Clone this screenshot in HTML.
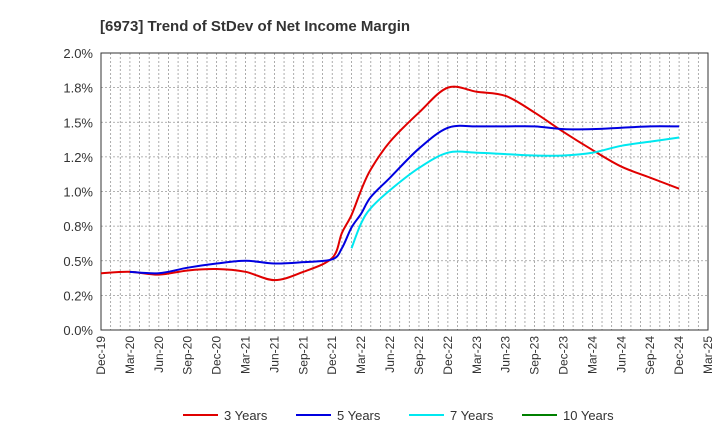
<!DOCTYPE html>
<html><head><meta charset="utf-8"><style>
body{margin:0;background:#fff;font-family:"Liberation Sans",sans-serif}
</style></head><body>
<svg id="c" width="720" height="440" xmlns="http://www.w3.org/2000/svg">
<text x="100" y="31" font-size="15" font-weight="bold" fill="#333">[6973]  Trend of StDev of Net Income Margin</text>
<g id="grid"></g><g id="axes"></g><g id="series"></g><g id="legend"></g>
</svg>
<script>
const xLabels=["Dec-19","Mar-20","Jun-20","Sep-20","Dec-20","Mar-21","Jun-21","Sep-21","Dec-21","Mar-22","Jun-22","Sep-22","Dec-22","Mar-23","Jun-23","Sep-23","Dec-23","Mar-24","Jun-24","Sep-24","Dec-24","Mar-25"];
const yTicks=[0,0.25,0.5,0.75,1.0,1.25,1.5,1.75,2.0];
const yTickLabels=["0.0%","0.2%","0.5%","0.8%","1.0%","1.2%","1.5%","1.8%","2.0%"];
// month index from Dec-19 (0) and values
const m3=[0,3,6,9,12,15,18,21,24,25,26,27,28,30,33,36,39,42,45,48,51,54,57,60];
const s3=[0.41,0.42,0.40,0.43,0.44,0.42,0.36,0.42,0.52,0.70,0.83,1.01,1.16,1.36,1.57,1.75,1.72,1.69,1.57,1.43,1.30,1.18,1.10,1.02];
const m5=[3,6,9,12,15,18,21,24,25,26,27,28,30,33,36,39,42,45,48,51,54,57,60];
const s5=[0.42,0.41,0.45,0.48,0.50,0.48,0.49,0.51,0.59,0.74,0.84,0.96,1.10,1.31,1.46,1.47,1.47,1.47,1.45,1.45,1.46,1.47,1.47];
const m7=[26,27,28,30,33,36,39,42,45,48,51,54,57,60];
const s7=[0.59,0.77,0.88,1.01,1.17,1.28,1.28,1.27,1.26,1.26,1.28,1.33,1.36,1.39];
const m10=[];
const s10=[];
const NS="http://www.w3.org/2000/svg";
const L=101,R=708,T=53,B=330;
const xm=m=>L+m*(R-L)/63;
const ys=v=>B-v/2.0*(B-T);
function mk(tag,attrs,parent){const e=document.createElementNS(NS,tag);for(const k in attrs)e.setAttribute(k,attrs[k]);parent.appendChild(e);return e;}
const grid=document.getElementById('grid'),axes=document.getElementById('axes'),ser=document.getElementById('series'),leg=document.getElementById('legend');
for(let m=1;m<63;m++){const x=xm(m);const g=mk('line',{x1:x,x2:x,y1:T,y2:B,stroke:'#999','stroke-dasharray':'2,2','stroke-width':0.8},grid);

}
yTicks.forEach((v,i)=>{const y=ys(v);
const g=mk('line',{x1:L,x2:R,y1:y,y2:y,stroke:'#999','stroke-dasharray':'2,2','stroke-width':0.8},grid);


const t=mk('text',{x:L-8,y:y+5,'text-anchor':'end','font-size':13,fill:'#333'},axes);t.textContent=yTickLabels[i];

});
xLabels.forEach((s,i)=>{const x=xm(i*3);
const t=mk('text',{transform:`translate(${x+4},${B+6}) rotate(-90)`,'text-anchor':'end','font-size':12,fill:'#333'},axes);t.textContent=s;

});
const fr=mk('rect',{x:L,y:T,width:R-L,height:B-T,fill:'none',stroke:'#333','stroke-width':1},axes);


function path(ms,vs){const p=ms.map((m,i)=>[xm(m),ys(vs[i])]);
if(!p.length)return '';let d=`M${p[0][0]},${p[0][1]}`;
for(let i=0;i<p.length-1;i++){const p0=p[i-1]||p[i],p1=p[i],p2=p[i+1],p3=p[i+2]||p2;const k=6;
d+=` C${p1[0]+(p2[0]-p0[0])/k},${p1[1]+(p2[1]-p0[1])/k} ${p2[0]-(p3[0]-p1[0])/k},${p2[1]-(p3[1]-p1[1])/k} ${p2[0]},${p2[1]}`;}return d;}
const series=[[m3,s3,'#e00000','3 Years','line-3-years'],[m5,s5,'#0000e0','5 Years','line-5-years'],[m7,s7,'#00e8f0','7 Years','line-7-years'],[m10,s10,'#008000','10 Years','line-10-years']];
series.forEach(([ms,vs,c,n,id],i)=>{const dd=path(ms,vs);if(dd){const e=mk('path',{d:dd,fill:'none',stroke:c,'stroke-width':2},ser);

}
const lx=[183,296,409,522][i];
const g=mk('g',{},leg);


mk('line',{x1:lx,x2:lx+35,y1:415,y2:415,stroke:c,'stroke-width':2},g);
const t=mk('text',{x:lx+41,y:420,'font-size':13,fill:'#333'},g);t.textContent=n;});
</script>
</body></html>
